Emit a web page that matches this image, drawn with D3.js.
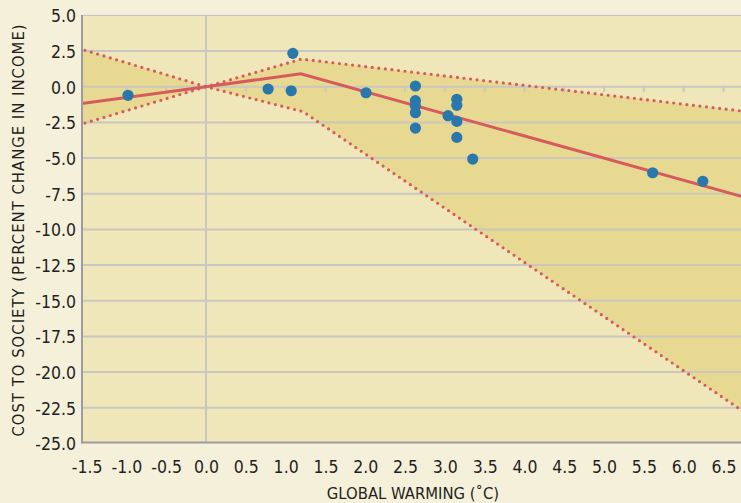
<!DOCTYPE html>
<html>
<head>
<meta charset="utf-8">
<script src="https://cdn.jsdelivr.net/npm/d3@7"></script>
<style>
  html, body { margin: 0; padding: 0; background: #f5f0da; }
  svg { display: block; }
  text { font-family: "DejaVu Sans Condensed", "DejaVu Sans", sans-serif; font-stretch: condensed; fill: #231f20; }
</style>
</head>
<body>
<svg id="chart" width="741" height="503"></svg>
<script>
// ---- data ----
const xTickValues = [-1.5, -1.0, -0.5, 0.0, 0.5, 1.0, 1.5, 2.0, 2.5, 3.0, 3.5, 4.0, 4.5, 5.0, 5.5, 6.0, 6.5];
const yTickValues = [5.0, 2.5, 0.0, -2.5, -5.0, -7.5, -10.0, -12.5, -15.0, -17.5, -20.0, -22.5, -25.0];
const zeroLineTicks = [-1.0, -0.5, 0.5, 1.0, 1.5, 2.0, 2.5, 3.0, 3.5, 4.0, 4.5, 5.0, 5.5, 6.0, 6.5];

// estimates (warming, % change in income)
const pointX = [-0.98, 0.78, 1.07, 1.09, 2.01, 2.63, 2.63, 2.63, 2.63, 2.63, 3.04, 3.15, 3.15, 3.15, 3.15, 3.35, 5.61, 6.24];
const pointY = [-0.6, -0.16, -0.28, 2.34, -0.42, 0.05, -0.98, -1.35, -1.82, -2.9, -2.03, -0.88, -1.3, -2.43, -3.55, -5.07, -6.03, -6.63];

// central fit
const centralX = [-1.6, 0.0, 1.19, 6.8];
const centralY = [-1.21, 0.0, 0.91, -7.80];
// confidence bounds
const boundAX = [-1.6, 0.0, 1.2, 6.8];
const boundAY = [-2.68, 0.0, 1.94, -1.75];
const boundBX = [-1.6, 0.0, 1.22, 6.8];
const boundBY = [2.69, 0.0, -1.75, -22.95];

const xTitle = "GLOBAL WARMING (˚C)";
const yTitle = "COST TO SOCIETY (PERCENT CHANGE IN INCOME)";

// ---- drawing ----
const svg = d3.select("#chart");
const pLeft = 82, pRight = 741, pTop = 15.4, pBottom = 443.4;
const x = d3.scaleLinear().domain([-1.558, 6.72]).range([pLeft, pRight]);
const y = d3.scaleLinear().domain([5, -25]).range([pTop, pBottom]);

svg.append("defs").append("clipPath").attr("id", "plotclip")
  .append("rect").attr("x", pLeft).attr("y", pTop).attr("width", pRight - pLeft).attr("height", pBottom - pTop);

// plot background
svg.append("rect").attr("x", pLeft).attr("y", pTop).attr("width", pRight - pLeft).attr("height", pBottom - pTop)
  .attr("fill", "#efe6b9");

const plot = svg.append("g").attr("clip-path", "url(#plotclip)");

// shaded band
const bandPts = boundAX.map((d, i) => [x(d), y(boundAY[i])])
  .concat(boundBX.map((d, i) => [x(d), y(boundBY[i])]).reverse());
plot.append("path").attr("d", "M" + bandPts.join("L") + "Z").attr("fill", "#e7d991");

// horizontal gridlines
plot.selectAll("line.hgrid").data(yTickValues.filter(v => v < 5 && v > -25)).enter()
  .append("line").attr("class", "hgrid")
  .attr("x1", pLeft).attr("x2", pRight)
  .attr("y1", d => y(d)).attr("y2", d => y(d))
  .attr("stroke", "#cac6c0").attr("stroke-width", 2);

// vertical gridline at 0
plot.append("line").attr("x1", x(0)).attr("x2", x(0)).attr("y1", pTop).attr("y2", pBottom)
  .attr("stroke", "#cac6c0").attr("stroke-width", 2);

// small ticks on zero line
plot.selectAll("line.ztick").data(zeroLineTicks).enter()
  .append("line").attr("class", "ztick")
  .attr("x1", d => x(d)).attr("x2", d => x(d))
  .attr("y1", y(0)).attr("y2", y(0) + 5)
  .attr("stroke", "#cac6c0").attr("stroke-width", 2);

// top border
svg.append("line").attr("x1", pLeft).attr("x2", pRight).attr("y1", pTop).attr("y2", pTop)
  .attr("stroke", "#c4c2c0").attr("stroke-width", 1);

const line = d3.line().x(d => x(d[0])).y(d => y(d[1]));

// dotted bounds
[[boundAX, boundAY], [boundBX, boundBY]].forEach(([xs, ys]) => {
  plot.append("path").datum(xs.map((d, i) => [d, ys[i]]))
    .attr("d", line).attr("fill", "none")
    .attr("stroke", "#d65b5d").attr("stroke-width", 3.2)
    .attr("stroke-linecap", "round").attr("stroke-dasharray", "0 6.6");
});

// central line
plot.append("path").datum(centralX.map((d, i) => [d, centralY[i]]))
  .attr("d", line).attr("fill", "none")
  .attr("stroke", "#d65b5d").attr("stroke-width", 3);

// points
plot.selectAll("circle").data(pointX.map((d, i) => [d, pointY[i]])).enter()
  .append("circle")
  .attr("cx", d => x(d[0])).attr("cy", d => y(d[1])).attr("r", 5.6)
  .attr("fill", "#2a78ab");

// axes lines
svg.append("line").attr("x1", pLeft).attr("x2", pLeft).attr("y1", pTop - 0.5).attr("y2", pBottom)
  .attr("stroke", "#9d9ca3").attr("stroke-width", 2);
svg.append("line").attr("x1", pLeft - 1).attr("x2", pRight).attr("y1", pBottom - 1).attr("y2", pBottom - 1)
  .attr("stroke", "#9d9ca3").attr("stroke-width", 2);

const fmt = d => d3.format(".1f")(d).replace("−", "-");

// axes labels via d3 axes (lines hidden)
const xAxis = d3.axisBottom(x).tickValues(xTickValues).tickFormat(fmt).tickSize(0).tickPadding(0);
const gx = svg.append("g").attr("transform", `translate(0, ${pBottom + 23})`).call(xAxis);
gx.select(".domain").remove();
gx.selectAll("text").attr("font-size", 17.5).attr("dy", "0.36em")
  .attr("font-family", null).attr("fill", "#231f20");

const yAxis = d3.axisLeft(y).tickValues(yTickValues).tickFormat(fmt).tickSize(0).tickPadding(6);
const gy = svg.append("g").attr("transform", `translate(${pLeft}, 0)`).call(yAxis);
gy.select(".domain").remove();
gy.selectAll("text").attr("font-size", 17.5).attr("dy", "0.36em")
  .attr("font-family", null).attr("fill", "#231f20");
svg.selectAll(".tick text").style("font-family", "'DejaVu Sans Condensed', 'DejaVu Sans', sans-serif");

// titles
svg.append("text").attr("x", 413).attr("y", 499).attr("text-anchor", "middle")
  .attr("font-size", 16.5).text(xTitle);
svg.append("text").attr("transform", `translate(24, 230) rotate(-90)`)
  .attr("text-anchor", "middle").attr("font-size", 16.5).attr("letter-spacing", 1.0).text(yTitle);
</script>
</body>
</html>
